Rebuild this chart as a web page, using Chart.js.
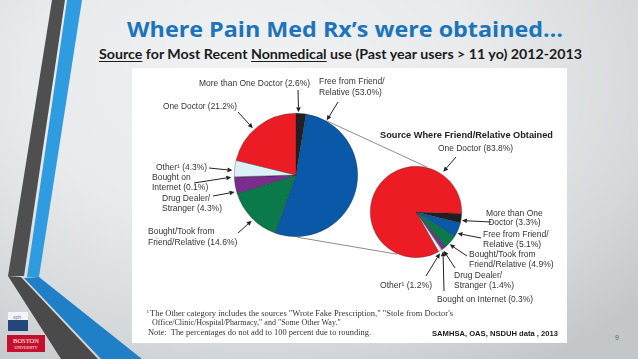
<!DOCTYPE html>
<html><head><meta charset="utf-8">
<script src="https://cdn.jsdelivr.net/npm/chart.js@4/dist/chart.umd.min.js"></script>
<style>
html,body{margin:0;padding:0;width:638px;height:359px;overflow:hidden;}
#slide{position:relative;width:638px;height:359px;overflow:hidden;
 background: radial-gradient(ellipse 80% 95% at 40% 22%, #f1f2f3 0%, #e8eaeb 45%, #d6d9db 78%, #c4c7ca 100%);}
.abs{position:absolute;white-space:pre;}
.lbl{font-family:"Liberation Sans",Arial,sans-serif;font-size:8.5px;color:#333;line-height:10px;}
.fn{font-family:"Liberation Serif","Times New Roman",serif;font-size:8px;color:#333;line-height:9px;}
#panel{position:absolute;left:132px;top:68px;width:435px;height:275px;background:#fff;}
canvas.pie{position:absolute;}
#ov{position:absolute;left:0;top:0;pointer-events:none;}
#title{font-family:"Open Sans",sans-serif;font-weight:700;font-size:22px;line-height:22px;color:#1c74bb;left:127px;top:17px;}
#sub{font-family:Lato,"Open Sans",sans-serif;font-weight:700;font-size:12.5px;line-height:15px;color:#1b1b1b;left:99px;top:47px;}
#sub u{text-decoration-thickness:1px;text-underline-offset:1.5px;}
</style>
</head>
<body>
<div id="slide">
  <svg class="abs" style="left:0;top:0" width="638" height="359">
    <polygon points="52,0 65,0 24,276 8,276" fill="#4f4f50"/>
    <polygon points="67,0 82,0 39,277 27,277" fill="#2f9be0"/>
    <polygon points="8,276 21,277 98,359 61,359" fill="#4a4a4b"/>
    <polygon points="24,278 39,277 142,359 101,359" fill="#1f80c8"/>
    <rect x="8" y="312" width="20" height="8" fill="#f4f4f6"/>
    <rect x="8" y="320" width="20" height="11" fill="#23467c"/>
    <text x="13" y="318.5" font-family="Liberation Sans" font-size="5" fill="#6a7fb0">sph</text>
    <rect x="7" y="335" width="38" height="17" fill="#c4102e"/>
    <text x="26" y="343" text-anchor="middle" font-family="Liberation Serif" font-size="6.5" fill="#fff">BOSTON</text>
    <text x="26" y="349" text-anchor="middle" font-family="Liberation Serif" font-size="3.8" fill="#fff">UNIVERSITY</text>
    <text x="617" y="340" text-anchor="middle" font-family="Liberation Sans" font-size="7" fill="#666">9</text>
  </svg>
  <div id="title" class="abs" data-w="436">Where Pain Med Rx’s were obtained…</div>
  <div id="sub" class="abs" data-w="483"><u>Source</u> for Most Recent <u>Nonmedical</u> use (Past year users &gt; 11 yo) 2012-2013</div>
  <div id="panel"></div>
  <canvas id="bigPie" class="pie" width="128" height="128" style="left:232px;top:111px"></canvas>
  <canvas id="smallPie" class="pie" width="96" height="96" style="left:368px;top:164px"></canvas>
  <canvas id="ov" width="638" height="359"></canvas>
  <div id="labels"></div>
</div>
<script>
// ---------------- data ----------------
const sliceLabels = ['More than One Doctor', 'Free from Friend/Relative', 'Bought/Took from Friend/Relative',
                     'Drug Dealer/Stranger', 'Bought on Internet', 'Other¹', 'One Doctor'];
const bigValues   = [2.6, 53.0, 14.6, 4.3, 0.1, 4.3, 21.2];
const smallValues = [3.3, 5.1, 4.9, 1.4, 0.3, 1.2, 83.8];
const bigTexts = ['More than One Doctor (2.6%)', 'Free from Friend/\nRelative (53.0%)', 'Bought/Took from\nFriend/Relative (14.6%)',
                  'Drug Dealer/\nStranger (4.3%)', 'Bought on\nInternet (0.1%)', 'Other¹ (4.3%)', 'One Doctor (21.2%)'];
const smallTexts = ['More than One\nDoctor (3.3%)', 'Free from Friend/\nRelative (5.1%)', 'Bought/Took from\nFriend/Relative (4.9%)',
                    'Drug Dealer/\nStranger (1.4%)', 'Bought on Internet (0.3%)', 'Other¹ (1.2%)', 'One Doctor (83.8%)'];
const smallTitle = 'Source Where Friend/Relative Obtained';
const footLines = ['The Other category includes the sources "Wrote Fake Prescription," "Stole from Doctor\'s',
                   'Office/Clinic/Hospital/Pharmacy," and "Some Other Way."',
                   'Note:  The percentages do not add to 100 percent due to rounding.'];
const sourceNote = 'SAMHSA, OAS, NSDUH data , 2013';

// ---------------- styles / layout ----------------
const sliceColors = ['#231f20', '#0a59a8', '#0b7a4b', '#7b2d8f', '#cfd0d8', '#dcf0f7', '#ec1c24'];
const bigRotation = 0, smallRotation = 92;

function makePie(id, values, rotation) {
  return new Chart(document.getElementById(id), {
    type: 'pie',
    data: { labels: sliceLabels, datasets: [{ data: values, backgroundColor: sliceColors,
            borderColor: 'rgba(30,30,30,0.5)', borderWidth: 0.6 }] },
    options: { responsive: false, animation: false, rotation: rotation, events: [],
               layout: { padding: 2 },
               plugins: { legend: { display: false }, tooltip: { enabled: false } } }
  });
}
const bigChart = makePie('bigPie', bigValues, bigRotation);
const smallChart = makePie('smallPie', smallValues, smallRotation);

// label layout: [left, top, align, lineHeight, tail x, tail y, frac within slice, gap, width]
const bigLayout = [
  [199, 78, 'left', 10, 298, 90, 0.25, 1, 111],
  [319, 76, 'left', 11, 338, 102, 0.105, 1, null],
  [148, 226, 'left', 10.5, 238, 233, 0.46, 2, null],
  [162, 193, 'left', 10, 213, 196, 0.13, 2, null],
  [152, 172, 'left', 10, 194, 183, 0.5, 3, null],
  [156, 162, 'left', 10, 209, 168, 0.38, 2, 51],
  [163, 101, 'left', 10, 238, 112, 0.44, 2, 74]
];
const smallLayout = [
  [486, 209, 'center', 8.5, 491, 222, 0.72, 1, null],
  [483, 229, 'left', 10, 481, 238, 0.73, 1, null],
  [469, 249, 'left', 10, 467, 256, 0.66, 1, null],
  [454, 270, 'left', 10, 455, 268, 0.9, 2, null],
  [437, 294, 'left', 10, 444, 291, 0.5, 2, 96],
  [380, 280, 'left', 10, 426, 276, 0.9, 2, 52],
  [438, 143, 'left', 10, 456, 157, 0.808, 3, 75]
];

const labelsDiv = document.getElementById('labels');
function addText(text, cls, left, top, lh, align, width, extraStyle) {
  const d = document.createElement('div');
  d.className = 'abs ' + cls;
  d.textContent = text;
  d.style.left = left + 'px'; d.style.top = top + 'px';
  if (lh) d.style.lineHeight = lh + 'px';
  d.style.textAlign = align || 'left';
  if (extraStyle) Object.assign(d.style, extraStyle);
  if (width) d.dataset.w = width;
  labelsDiv.appendChild(d);
  return d;
}
bigTexts.forEach((t, i) => { const L = bigLayout[i]; addText(t, 'lbl', L[0], L[1], L[3], L[2], L[8]); });
smallTexts.forEach((t, i) => { const L = smallLayout[i]; addText(t, 'lbl', L[0], L[1], L[3], L[2], L[8]); });
addText(smallTitle, 'lbl', 380, 130, 10, 'left', 173, { fontWeight: 'bold', color: '#222' });
addText('¹', 'fn', 147, 308, 9, 'left', null, { fontSize: '6px' });
addText(footLines[0], 'fn', 150, 309, 9, 'left', 303);
addText(footLines[1], 'fn', 152, 318, 9, 'left', null);
addText(footLines[2], 'fn', 148, 328, 9, 'left', 223);
addText(sourceNote, 'lbl', 432, 329, 10, 'left', 126, { fontWeight: 'bold', fontSize: '8px', color: '#1a1a1a' });

// fit widths
document.querySelectorAll('[data-w]').forEach(el => {
  el.style.display = 'inline-block';
  const w = el.getBoundingClientRect().width;
  const s = parseFloat(el.dataset.w) / w;
  el.style.transformOrigin = 'left center';
  el.style.transform = 'scaleX(' + s.toFixed(4) + ')';
});

// ---------------- overlay: arrows & connectors ----------------
const ov = document.getElementById('ov').getContext('2d');
function sliceGeom(chart, idx) {
  const el = chart.getDatasetMeta(0).data[idx];
  const p = el.getProps(['x', 'y', 'startAngle', 'endAngle', 'outerRadius'], true);
  const c = chart.canvas;
  return { cx: c.offsetLeft + p.x, cy: c.offsetTop + p.y, s: p.startAngle, e: p.endAngle, r: p.outerRadius };
}
function slicePoint(chart, idx, frac, gap) {
  const g = sliceGeom(chart, idx);
  const a = g.s + frac * (g.e - g.s);
  return [g.cx + (g.r + gap) * Math.cos(a), g.cy + (g.r + gap) * Math.sin(a)];
}
function rimPoint(chart, degFromTop, gap) {
  const g = sliceGeom(chart, 0);
  const a = (degFromTop - 90) * Math.PI / 180;
  return [g.cx + (g.r + gap) * Math.cos(a), g.cy + (g.r + gap) * Math.sin(a)];
}
function arrow(x0, y0, x1, y1) {
  ov.strokeStyle = '#222'; ov.fillStyle = '#222'; ov.lineWidth = 1;
  const a = Math.atan2(y1 - y0, x1 - x0), L = 5, W = 2.3;
  const bx = x1 - L * Math.cos(a), by = y1 - L * Math.sin(a);
  ov.beginPath(); ov.moveTo(x0, y0); ov.lineTo(bx, by); ov.stroke();
  ov.beginPath(); ov.moveTo(x1, y1);
  ov.lineTo(bx + W * Math.sin(a), by - W * Math.cos(a));
  ov.lineTo(bx - W * Math.sin(a), by + W * Math.cos(a));
  ov.closePath(); ov.fill();
}
// connectors between the pies
ov.strokeStyle = '#8c8c8c'; ov.lineWidth = 1;
[[29, 14], [179, 204]].forEach(([a1, a2]) => {
  const p1 = rimPoint(bigChart, a1, 0.5), p2 = rimPoint(smallChart, a2, 0.5);
  ov.beginPath(); ov.moveTo(p1[0], p1[1]); ov.lineTo(p2[0], p2[1]); ov.stroke();
});
bigLayout.forEach((L, i) => { const t = slicePoint(bigChart, i, L[6], L[7]); arrow(L[4], L[5], t[0], t[1]); });
smallLayout.forEach((L, i) => { const t = slicePoint(smallChart, i, L[6], L[7]); arrow(L[4], L[5], t[0], t[1]); });
</script>
</body></html>
